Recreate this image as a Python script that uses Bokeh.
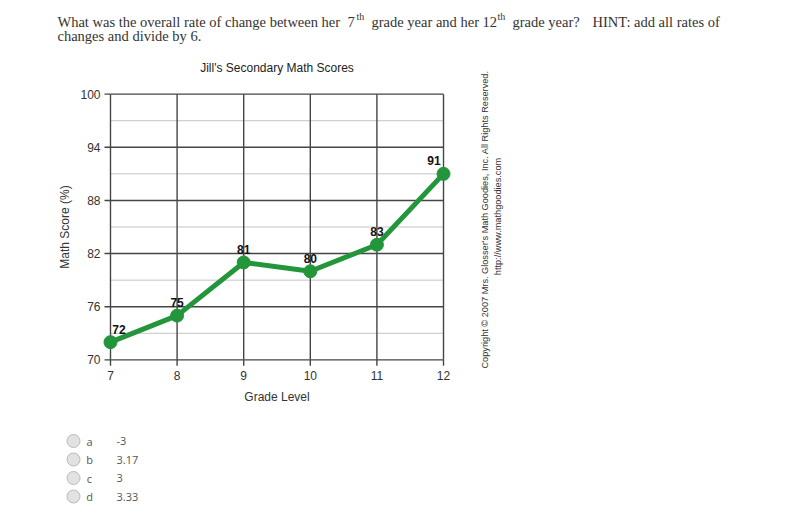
import math
from bokeh.plotting import figure
from bokeh.models import ColumnDataSource, LabelSet, FixedTicker, Range1d
from bokeh.layouts import column, row
from bokeh.embed import file_html
from bokeh.resources import INLINE
from bokeh.core.properties import value

# ---------------- data ----------------
grades = [7, 8, 9, 10, 11, 12]
scores = [72, 75, 81, 80, 83, 91]
score_text = ["72", "75", "81", "80", "83", "91"]
x_major = [7, 8, 9, 10, 11, 12]
y_major = [70, 76, 82, 88, 94, 100]
y_minor = [73, 79, 85, 91, 97]
chart_title = "Jill's Secondary Math Scores"
x_title = "Grade Level"
y_title = "Math Score (%)"
copyright_1 = "Copyright \u00a9 2007 Mrs. Glosser's Math Goodies, Inc. All Rights Reserved."
copyright_2 = "http://www.mathgoodies.com"
q1_main = ["What was the overall rate of change between her", "7", "grade year and her", "12",
           "grade year?", "HINT: add all rates of"]
q1_sup = ["th", "th"]
q2 = "changes and divide by 6."
option_letters = ["a", "b", "c", "d"]
option_values = ["-3", "3.17", "3", "3.33"]

# ---------------- styles ----------------
GREEN = "#23963c"
DARK = "#454545"
LIGHT = "#c4c4c4"
SANS = "Liberation Sans"
SERIF = "Liberation Serif"
label_dx = [8.5, 0, 0, 0, 0, -9.5]
q1_main_x = [57, 347, 371, 482, 512, 592]
q1_sup_x = [356, 497]
opt_y = [15.5, 34, 52.5, 71]


def blank(w, h, yr):
    f = figure(width=w, height=h, x_range=Range1d(0, w), y_range=yr,
               output_backend="svg", toolbar_location=None,
               x_axis_location=None, y_axis_location=None,
               min_border=0, outline_line_color=None)
    f.xgrid.visible = False
    f.ygrid.visible = False
    return f


# ---------------- top question text ----------------
top = blank(800, 50, Range1d(50, 0))
top.text(x=q1_main_x, y=[21.5] * len(q1_main), text=q1_main,
         text_font=value(SERIF), text_font_size="14.5px", text_color="#333333",
         text_baseline="alphabetic")
top.text(x=q1_sup_x, y=[15.5] * len(q1_sup), text=q1_sup,
         text_font=value(SERIF), text_font_size="10px", text_color="#333333",
         text_baseline="alphabetic")
top.text(x=[57], y=[35], text=[q2],
         text_font=value(SERIF), text_font_size="14.5px", text_color="#333333",
         text_baseline="alphabetic")

# ---------------- chart ----------------
FR_L, FR_T, FR_W, FR_H = 100, 33, 353, 287
xpad, ypad = 0.15, 1.2
xr0, xr1 = x_major[0] - xpad, x_major[-1] + xpad
yr0, yr1 = y_major[0] - ypad, y_major[-1] + ypad

chart = figure(width=470, height=375,
               x_range=Range1d(xr0, xr1), y_range=Range1d(yr0, yr1),
               output_backend="svg", toolbar_location=None,
               min_border_left=FR_L, min_border_right=470 - FR_L - FR_W,
               min_border_top=FR_T, min_border_bottom=375 - FR_T - FR_H,
               outline_line_color=None)
chart.xgrid.visible = False
chart.ygrid.visible = False

chart.title.text = chart_title
chart.title.text_font = SANS
chart.title.text_font_size = "12px"
chart.title.text_font_style = "normal"
chart.title.text_color = "#222222"
chart.title.align = "center"
chart.title.offset = -6
chart.title.standoff = 17

# grid / frame lines drawn from the tick lists
chart.multi_line(xs=[[x_major[0], x_major[-1]] for _ in y_minor],
                 ys=[[v, v] for v in y_minor], line_color=LIGHT, line_width=1)
chart.multi_line(xs=[[x_major[0], x_major[-1]] for _ in y_major],
                 ys=[[v, v] for v in y_major], line_color=DARK, line_width=1.4)
chart.multi_line(xs=[[g, g] for g in x_major],
                 ys=[[y_major[0], y_major[-1]] for _ in x_major],
                 line_color=DARK, line_width=1.4)
# outward tick marks
chart.ray(x=[x_major[0]] * len(y_major), y=y_major, length=6, length_units="screen",
          angle=math.pi, line_color=DARK, line_width=1.4)
chart.ray(x=x_major, y=[y_major[0]] * len(x_major), length=6, length_units="screen",
          angle=-math.pi / 2, line_color=DARK, line_width=1.4)

src = ColumnDataSource(dict(x=grades, y=scores, t=score_text, dx=label_dx))
chart.line("x", "y", source=src, line_color=GREEN, line_width=5)
chart.scatter("x", "y", source=src, size=13, fill_color=GREEN, line_color=GREEN)
chart.add_layout(LabelSet(x="x", y="y", text="t", source=src, x_offset="dx", y_offset=13,
                          text_align="center", text_baseline="middle",
                          text_font=value(SANS), text_font_size="12px",
                          text_font_style="bold", text_color="#111111"))

for ax in (chart.xaxis[0], chart.yaxis[0]):
    ax.axis_line_color = None
    ax.major_tick_line_color = None
    ax.major_tick_in = 0
    ax.major_tick_out = 0
    ax.minor_tick_line_color = None
    ax.major_label_text_font = SANS
    ax.major_label_text_font_size = "12px"
    ax.major_label_text_color = "#333333"
    ax.major_label_standoff = 0
    ax.axis_label_text_font = SANS
    ax.axis_label_text_font_size = "12px"
    ax.axis_label_text_font_style = "normal"
    ax.axis_label_text_color = "#333333"

chart.xaxis.ticker = FixedTicker(ticks=x_major)
chart.yaxis.ticker = FixedTicker(ticks=y_major)
chart.xaxis.axis_label = x_title
chart.yaxis.axis_label = y_title
chart.xaxis.axis_label_standoff = 7
chart.yaxis.axis_label_standoff = 5

# ---------------- copyright side ----------------
side = blank(330, 375, Range1d(0, 375))
side.text(x=[14, 27], y=[206, 209], text=[copyright_1, copyright_2], angle=math.pi / 2,
          text_align="center", text_baseline="middle",
          text_font=value(SANS), text_font_size="9.2px", text_color="#333333")

# ---------------- answer options ----------------
bottom = blank(800, 97, Range1d(97, 0))
bottom.scatter(x=[73] * len(option_letters), y=opt_y, size=13,
               fill_color="#e2e2e2", line_color="#bbbbbb", line_width=1)
bottom.text(x=[89] * len(option_letters), y=opt_y, text=option_letters,
            text_align="center", text_baseline="middle",
            text_font=value("Open Sans"), text_font_size="11px", text_color="#555555")
bottom.text(x=[116] * len(option_values), y=opt_y, text=option_values,
            text_align="left", text_baseline="middle",
            text_font=value("Open Sans"), text_font_size="11px", text_color="#555555")

layout = column(top, row(column(chart), column(side)), bottom)
open("out.html", "w").write(file_html(layout, INLINE))
